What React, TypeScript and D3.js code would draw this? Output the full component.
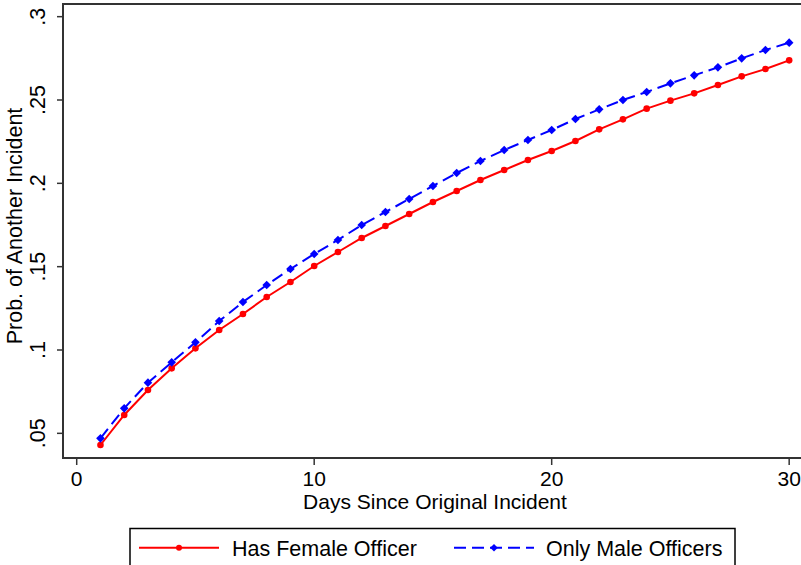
import React from "react";
import * as d3 from "d3";

const days = d3.range(1, 31);
const femaleOfficer = [
  0.043, 0.061, 0.076, 0.089, 0.101, 0.112, 0.1216, 0.1318, 0.1408, 0.1504,
  0.1588, 0.1672, 0.1744, 0.1816, 0.1888, 0.1954, 0.202, 0.208, 0.214, 0.2194,
  0.2254, 0.2324, 0.2384, 0.2448, 0.2496, 0.254, 0.259, 0.2642, 0.2686, 0.2738,
];
const maleOfficers = [
  0.047, 0.065, 0.0804, 0.0926, 0.1046, 0.1174, 0.1288, 0.139, 0.1486, 0.1576,
  0.166, 0.175, 0.1828, 0.1906, 0.1984, 0.2062, 0.2134, 0.22, 0.226, 0.232,
  0.2386, 0.2444, 0.25, 0.2548, 0.26, 0.2648, 0.2696, 0.275, 0.28, 0.2844,
];
const xTicks = [0, 10, 20, 30];
const yTicks = [0.05, 0.1, 0.15, 0.2, 0.25, 0.3];
const seriesNames = ["Has Female Officer", "Only Male Officers"];

const W = 801;
const H = 565;
const FONT = "'Liberation Sans', Arial, Helvetica, sans-serif";

export default function App() {
  const left = 63, top = 4, bottom = 458, right = 802;
  const x = d3.scaleLinear().domain([-0.577, 30.54]).range([left, right]);
  const y = d3.scaleLinear().domain([0.0352, 0.3076]).range([bottom, top]);
  const line = d3
    .line<number>()
    .x((_, i) => x(days[i]))
    .y((v) => y(v));
  const fmt = (v: number) => {
    const s = d3.format(".2~f")(v);
    return s.startsWith("0") ? s.slice(1) : s;
  };
  const diamond = (cx: number, cy: number, r: number) =>
    `M${cx},${cy - r}L${cx + r},${cy}L${cx},${cy + r}L${cx - r},${cy}Z`;

  return (
    <div style={{ position: "fixed", left: 0, top: 0 }}>
      <svg width={W} height={H} style={{ display: "block", background: "#fff" }}>
        <rect x={0} y={0} width={W} height={H} fill="#fff" />
        {/* series */}
        <path d={line(femaleOfficer) || ""} fill="none" stroke="#ff0000" strokeWidth={2} />
        {femaleOfficer.map((v, i) => (
          <circle key={"f" + i} cx={x(days[i])} cy={y(v)} r={3.3} fill="#ff0000" />
        ))}
        <path
          d={line(maleOfficers) || ""}
          fill="none"
          stroke="#0000ff"
          strokeWidth={2}
          strokeDasharray="12 6"
        />
        {maleOfficers.map((v, i) => (
          <path key={"m" + i} d={diamond(x(days[i]), y(v), 4.3)} fill="#0000ff" />
        ))}
        {/* frame */}
        <rect
          x={left}
          y={top}
          width={right - left}
          height={bottom - top}
          fill="none"
          stroke="#333"
          strokeWidth={2}
        />
        {/* y axis ticks */}
        {yTicks.map((t) => (
          <g key={"y" + t}>
            <line x1={left - 6} x2={left} y1={y(t)} y2={y(t)} stroke="#333" strokeWidth={1.5} />
            <text
              transform={`translate(45,${y(t)}) rotate(-90)`}
              textAnchor="middle"
              fontFamily={FONT}
              fontSize={21.5}
              fill="#000"
            >
              {fmt(t)}
            </text>
          </g>
        ))}
        {/* x axis ticks */}
        {xTicks.map((t) => (
          <g key={"x" + t}>
            <line x1={x(t)} x2={x(t)} y1={bottom} y2={bottom + 7} stroke="#333" strokeWidth={1.5} />
            <text
              x={x(t)}
              y={485.5}
              textAnchor="middle"
              fontFamily={FONT}
              fontSize={21}
              fill="#000"
            >
              {t}
            </text>
          </g>
        ))}
        {/* axis titles */}
        <text
          transform={`translate(21.5,226) rotate(-90)`}
          textAnchor="middle"
          fontFamily={FONT}
          fontSize={21.5}
          fill="#000"
        >
          Prob. of Another Incident
        </text>
        <text x={435} y={509} textAnchor="middle" fontFamily={FONT} fontSize={21} fill="#000">
          Days Since Original Incident
        </text>
        {/* legend */}
        <rect x={130} y={528.5} width={605} height={50} fill="#fff" stroke="#000" strokeWidth={1.5} />
        <line x1={139} x2={219} y1={547.7} y2={547.7} stroke="#ff0000" strokeWidth={2} />
        <circle cx={179} cy={547.7} r={3} fill="#ff0000" />
        <text x={232} y={555.5} fontFamily={FONT} fontSize={21.5} fill="#000">
          {seriesNames[0]}
        </text>
        <line
          x1={454}
          x2={534}
          y1={547.7}
          y2={547.7}
          stroke="#0000ff"
          strokeWidth={2}
          strokeDasharray="12 6"
        />
        <path d={diamond(494, 547.7, 3.8)} fill="#0000ff" />
        <text x={546} y={555.5} fontFamily={FONT} fontSize={21.5} fill="#000">
          {seriesNames[1]}
        </text>
      </svg>
    </div>
  );
}
